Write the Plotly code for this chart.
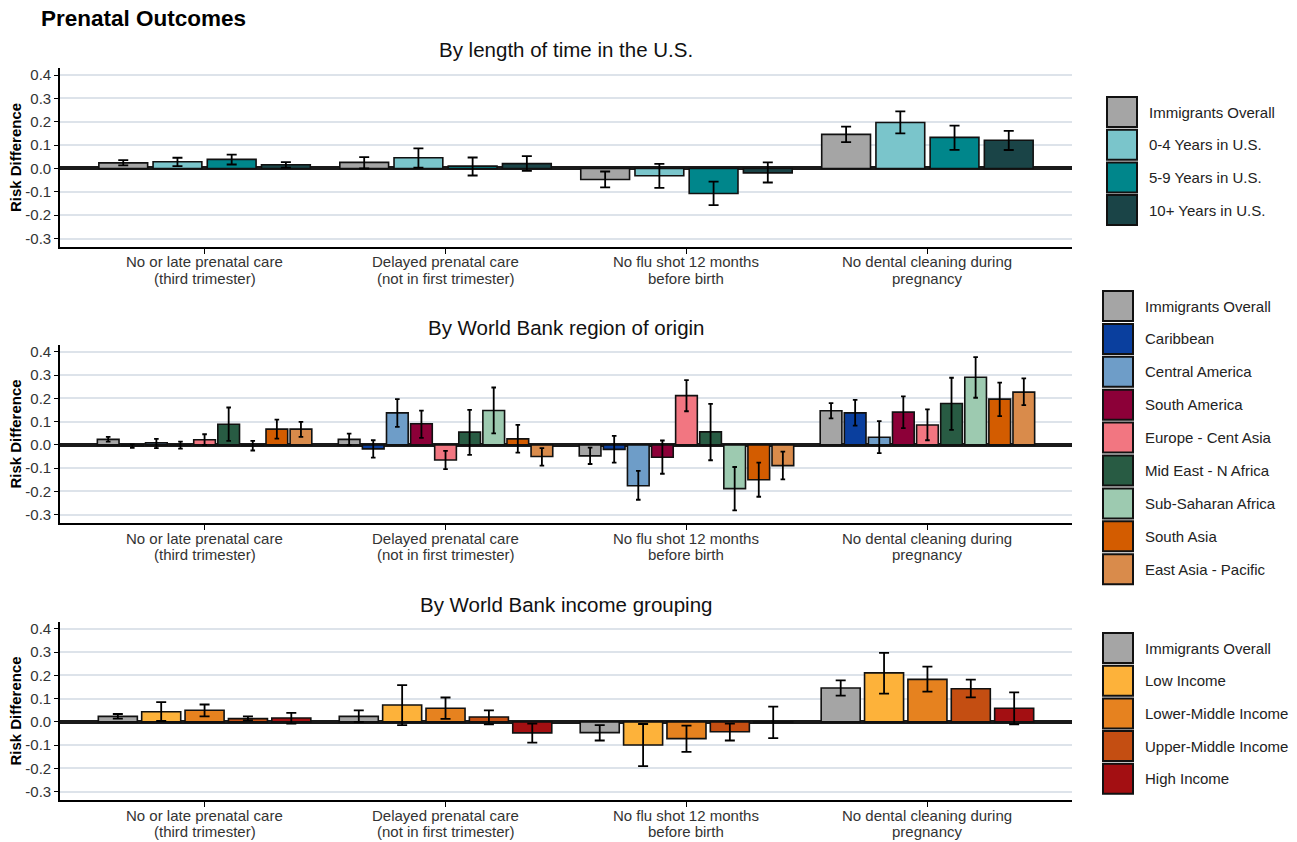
import plotly.graph_objects as go

# ---------------- data ----------------
categories = [
    "No or late prenatal care<br>(third trimester)",
    "Delayed prenatal care<br>(not in first trimester)",
    "No flu shot 12 months<br>before birth",
    "No dental cleaning during<br>pregnancy",
]

# Panel 1: by length of time in the U.S.
years_names = ["Immigrants Overall", "0-4 Years in U.S.", "5-9 Years in U.S.", "10+ Years in U.S."]
years_colors = ["#A5A5A5", "#7AC5CB", "#00868B", "#1A4447"]
years_val = [
    [0.024, 0.026, -0.047, 0.146],
    [0.029, 0.046, -0.031, 0.197],
    [0.039, 0.010, -0.107, 0.133],
    [0.016, 0.021, -0.019, 0.121],
]
years_lo = [
    [0.013, 0.000, -0.081, 0.113],
    [0.010, 0.004, -0.083, 0.150],
    [0.017, -0.030, -0.157, 0.080],
    [0.004, -0.010, -0.060, 0.079],
]
years_hi = [
    [0.036, 0.049, -0.013, 0.179],
    [0.046, 0.086, 0.020, 0.244],
    [0.059, 0.047, -0.056, 0.183],
    [0.027, 0.053, 0.026, 0.161],
]

# Panel 2: by World Bank region of origin
region_names = ["Immigrants Overall", "Caribbean", "Central America", "South America",
                "Europe - Cent Asia", "Mid East - N Africa", "Sub-Saharan Africa",
                "South Asia", "East Asia - Pacific"]
region_colors = ["#A5A5A5", "#0A3F9E", "#6E9DC8", "#8C0038", "#F27681",
                 "#285B43", "#9DCAB0", "#D35C00", "#D98B4B"]
region_val = [
    [0.024, 0.024, -0.047, 0.147],
    [-0.004, -0.017, -0.019, 0.138],
    [0.009, 0.138, -0.176, 0.033],
    [0.000, 0.091, -0.053, 0.141],
    [0.022, -0.065, 0.212, 0.086],
    [0.089, 0.055, 0.056, 0.178],
    [-0.003, 0.148, -0.188, 0.291],
    [0.068, 0.026, -0.150, 0.197],
    [0.068, -0.050, -0.089, 0.227],
]
region_lo = [
    [0.014, 0.000, -0.082, 0.114],
    [-0.013, -0.055, -0.076, 0.083],
    [-0.014, 0.078, -0.236, -0.035],
    [-0.016, 0.030, -0.124, 0.072],
    [0.000, -0.104, 0.145, 0.020],
    [0.017, -0.043, -0.066, 0.065],
    [-0.024, 0.050, -0.282, 0.203],
    [0.027, -0.033, -0.223, 0.124],
    [0.035, -0.089, -0.148, 0.171],
]
region_hi = [
    [0.035, 0.049, -0.012, 0.180],
    [0.002, 0.020, 0.039, 0.194],
    [0.026, 0.197, -0.112, 0.102],
    [0.014, 0.148, 0.019, 0.209],
    [0.046, -0.026, 0.279, 0.153],
    [0.161, 0.151, 0.177, 0.289],
    [0.017, 0.247, -0.095, 0.378],
    [0.109, 0.086, -0.076, 0.268],
    [0.099, -0.014, -0.029, 0.286],
]

# Panel 3: by World Bank income grouping
income_names = ["Immigrants Overall", "Low Income", "Lower-Middle Income",
                "Upper-Middle Income", "High Income"]
income_colors = ["#A5A5A5", "#FDB23A", "#E6821F", "#C44E12", "#A30F12"]
income_val = [
    [0.024, 0.024, -0.046, 0.146],
    [0.044, 0.073, -0.099, 0.211],
    [0.050, 0.059, -0.072, 0.183],
    [0.014, 0.021, -0.042, 0.143],
    [0.017, -0.047, -0.002, 0.059],
]
income_lo = [
    [0.014, 0.000, -0.080, 0.113],
    [0.004, -0.014, -0.190, 0.122],
    [0.024, 0.013, -0.129, 0.130],
    [0.007, -0.010, -0.080, 0.106],
    [-0.007, -0.089, -0.070, -0.010],
]
income_hi = [
    [0.034, 0.050, -0.014, 0.179],
    [0.085, 0.158, -0.009, 0.297],
    [0.075, 0.105, -0.016, 0.238],
    [0.024, 0.050, -0.007, 0.182],
    [0.039, -0.007, 0.066, 0.127],
]

panel_titles = ["By length of time in the U.S.", "By World Bank region of origin",
                "By World Bank income grouping"]
y_ticks = [-0.3, -0.2, -0.1, 0.0, 0.1, 0.2, 0.3, 0.4]

# ---------------- layout geometry (pixels) ----------------
W, H = 1297, 842
FONT = "Liberation Sans, Arial, sans-serif"
plot_x = (60, 1072)
panels_px = [(68, 247), (345, 523), (622, 800)]   # top, bottom
title_y_px = [50, 327, 604]
cap_widths = [5, 2.3, 5]
legend_px = [  # box left, first box top, step
    (1107, 97, 32.7),
    (1103, 291, 32.9),
    (1103, 633, 32.7),
]

def px_x(x):
    return x / W

def px_y(y):
    return 1 - y / H

fig = go.Figure()

panels = [
    (years_names, years_colors, years_val, years_lo, years_hi),
    (region_names, region_colors, region_val, region_lo, region_hi),
    (income_names, income_colors, income_val, income_lo, income_hi),
]

shapes = []
annotations = [
    dict(text="<b>Prenatal Outcomes</b>", x=px_x(39), y=px_y(19), xref="paper", yref="paper",
         xanchor="left", yanchor="middle", showarrow=False,
         font=dict(family=FONT, size=22.5, color="#000000")),
]

for p, (names, colors, vals, los, his) in enumerate(panels):
    ax = "" if p == 0 else str(p + 1)
    for name, color, v, lo, hi in zip(names, colors, vals, los, his):
        fig.add_trace(go.Bar(
            x=categories, y=v, name=name,
            marker=dict(color=color, line=dict(color="#111111", width=1.6)),
            error_y=dict(type="data", symmetric=False,
                         array=[h - val for h, val in zip(hi, v)],
                         arrayminus=[val - l for l, val in zip(lo, v)],
                         color="#000000", thickness=1.8, width=cap_widths[p]),
            xaxis="x" + ax, yaxis="y" + ax, showlegend=False,
        ))
    top, bot = panels_px[p]
    fig.layout["xaxis" + ax] = dict(
        domain=[px_x(plot_x[0]), px_x(plot_x[1])], anchor="y" + ax,
        type="category", categoryorder="array", categoryarray=categories,
        range=[-0.6, 3.6], showgrid=False, zeroline=False,
        showline=True, linecolor="#000000", linewidth=1.6,
        ticks="outside", ticklen=5, tickwidth=1.4, tickcolor="#000000",
        showticklabels=False,
        fixedrange=True, automargin=False,
    )
    fig.layout["yaxis" + ax] = dict(
        domain=[px_y(bot), px_y(top)], anchor="x" + ax,
        range=[-0.336, 0.43], tickvals=y_ticks,
        ticktext=[f"{t:.1f}" for t in y_ticks],
        showgrid=True, gridcolor="#DDE3EA", gridwidth=2,
        zeroline=True, zerolinecolor="#1A1A1A", zerolinewidth=3.5,
        showline=True, linecolor="#000000", linewidth=1.6,
        ticks="outside", ticklen=4, tickwidth=1.4, tickcolor="#000000",
        tickfont=dict(family=FONT, size=15, color="#333333"),
        title=dict(text="<b>Risk Difference</b>", standoff=0,
                   font=dict(family=FONT, size=15, color="#000000")),
        fixedrange=True, automargin=False,
    )
    # category labels (two lines, tight line spacing like the reference)
    for cat in categories:
        for li, line in enumerate(cat.split("<br>")):
            annotations.append(dict(
                text=line, x=cat, xref="x" + ax, y=px_y(bot + 15 + 16 * li), yref="paper",
                xanchor="center", yanchor="middle", showarrow=False,
                font=dict(family=FONT, size=15, color="#333333")))
    annotations.append(dict(
        text=panel_titles[p], x=px_x((plot_x[0] + plot_x[1]) / 2), y=px_y(title_y_px[p]),
        xref="paper", yref="paper", xanchor="center", yanchor="middle", showarrow=False,
        font=dict(family=FONT, size=20.5, color="#111111")))

    # custom legend (large square keys)
    lx, ly, step = legend_px[p]
    size = 30
    for i, (name, color) in enumerate(zip(names, colors)):
        y0 = ly + i * step
        shapes.append(dict(type="rect", xref="paper", yref="paper",
                           x0=px_x(lx), x1=px_x(lx + size),
                           y0=px_y(y0 + size), y1=px_y(y0),
                           fillcolor=color, line=dict(color="#111111", width=2)))
        annotations.append(dict(text=name, x=px_x(lx + size + 10), y=px_y(y0 + size / 2),
                                xref="paper", yref="paper", xanchor="left", yanchor="middle",
                                showarrow=False,
                                font=dict(family=FONT, size=15, color="#222222")))

fig.update_layout(
    width=W, height=H,
    margin=dict(l=0, r=0, t=0, b=0, pad=0),
    paper_bgcolor="#FFFFFF", plot_bgcolor="#FFFFFF",
    barmode="group", bargap=0.1, bargroupgap=0.1,
    showlegend=False,
    shapes=shapes, annotations=annotations,
    font=dict(family=FONT, size=14, color="#333333"),
)

fig.write_html("out.html", config={"displayModeBar": False},
               post_script="document.body.style.margin='0';document.body.style.overflow='hidden';")
